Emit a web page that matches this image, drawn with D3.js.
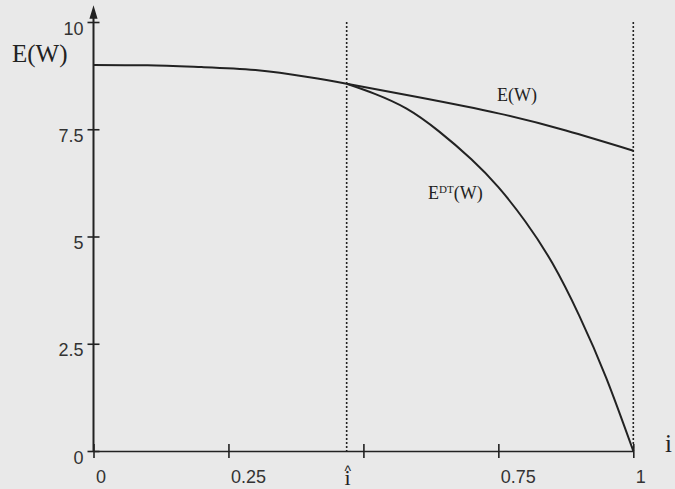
<!DOCTYPE html>
<html>
<head>
<meta charset="utf-8">
<script src="https://cdn.jsdelivr.net/npm/d3@7"></script>
<style>
  body { margin: 0; background: #e9e9e9; }
  svg { display: block; }
  .axis path, .axis line { stroke: #222; stroke-width: 1.6px; }
  .axis text { font-family: "Liberation Sans", Arial, sans-serif; font-size: 18px; fill: #333; }
  .serif { font-family: "Liberation Serif", "Times New Roman", serif; fill: #222; }
</style>
</head>
<body>
<svg width="675" height="489"></svg>
<script>
// values
var xTicks = [0, 0.25, 0.5, 0.75, 1];
var xTickLabels = ["0", "0.25", "", "0.75", "1"];
var yTicks = [0, 2.5, 5, 7.5, 10];
var yTickLabels = ["0", "2.5", "5", "7.5", "10"];
var iHat = 0.469;

// common part before i-hat
var sharedX = [0, 0.1, 0.2, 0.3, 0.4, 0.469];
var sharedY = [9.0, 8.99, 8.95, 8.88, 8.71, 8.56];
// E(W) after i-hat
var ewX = [0.469, 0.6, 0.75, 0.875, 1.0];
var ewY = [8.56, 8.25, 7.87, 7.47, 7.0];
// E^DT(W) after i-hat
var edtX = [0.469, 0.52, 0.58, 0.64, 0.70, 0.75, 0.80, 0.85, 0.90, 0.95, 1.0];
var edtY = [8.56, 8.33, 7.98, 7.45, 6.8, 6.15, 5.35, 4.38, 3.15, 1.7, 0];

window.onload = function() {
    var svg = d3.select("svg");
    var x = d3.scaleLinear().domain([0, 1]).range([93.5, 633.3]),
        y = d3.scaleLinear().domain([0, 10]).range([451, 22]);

    var zip = function(xs, ys) {
        return xs.map(function(v, i) { return {x: v, y: ys[i]}; });
    };
    var line = d3.line()
        .curve(d3.curveNatural)
        .x(function(d) { return x(d.x); })
        .y(function(d) { return y(d.y); });

    // dotted verticals at i-hat and 1
    svg.selectAll(".guide")
        .data([iHat, 1])
        .enter().append("line")
        .attr("class", "guide")
        .attr("x1", function(d) { return x(d); })
        .attr("x2", function(d) { return x(d); })
        .attr("y1", y(10))
        .attr("y2", y(0))
        .style("stroke", "#222")
        .style("stroke-width", "1.6px")
        .style("stroke-dasharray", "2,2");

    // x axis
    var gx = svg.append("g")
        .attr("class", "axis axis--x")
        .attr("transform", "translate(0," + y(0) + ")")
        .call(d3.axisBottom(x).tickValues(xTicks).tickSizeOuter(0)
            .tickFormat(function(d, i) { return xTickLabels[i]; }));
    gx.selectAll(".tick line").attr("y1", -7).attr("y2", 7);
    gx.selectAll(".tick text")
        .style("text-anchor", "start")
        .attr("x", 2)
        .attr("y", 32)
        .attr("dy", null);

    // y axis
    var gy = svg.append("g")
        .attr("class", "axis axis--y")
        .attr("transform", "translate(" + x(0) + ",0)")
        .call(d3.axisLeft(y).tickValues(yTicks).tickSizeOuter(0)
            .tickFormat(function(d, i) { return yTickLabels[i]; }));
    gy.selectAll(".tick line").attr("x1", -6).attr("x2", 6);
    gy.selectAll(".tick text")
        .attr("x", -10)
        .attr("y", 12)
        .attr("dy", null);
    gy.select(".domain").remove();
    // y axis line with arrow
    gy.append("line")
        .attr("x1", 0).attr("x2", 0)
        .attr("y1", y(0)).attr("y2", y(10) - 8)
        .style("stroke", "#222")
        .style("stroke-width", "2px");
    gy.append("path")
        .attr("d", "M-3," + (y(10) - 4) + "L0," + (y(10) - 14) + "L3," + (y(10) - 4) + "Z")
        .style("fill", "#222");

    // curves
    var curves = [zip(sharedX, sharedY), zip(ewX, ewY), zip(edtX, edtY)];
    svg.selectAll(".curve")
        .data(curves)
        .enter().append("path")
        .attr("class", "curve")
        .attr("d", line)
        .style("fill", "none")
        .style("stroke", "#222")
        .style("stroke-width", "2px");

    // labels
    svg.append("text").attr("class", "serif")
        .attr("x", 12).attr("y", 62)
        .style("font-size", "25px")
        .text("E(W)");
    svg.append("text").attr("class", "serif")
        .attr("x", 497).attr("y", 101)
        .style("font-size", "18px")
        .text("E(W)");
    var edt = svg.append("text").attr("class", "serif")
        .attr("x", 428).attr("y", 199)
        .style("font-size", "18px");
    edt.append("tspan").text("E");
    edt.append("tspan").attr("dy", -6).style("font-size", "11px").text("DT");
    edt.append("tspan").attr("dy", 6).text("(W)");
    svg.append("text").attr("class", "serif")
        .attr("x", 665).attr("y", 452)
        .style("font-size", "25px")
        .text("i");
    // i-hat under the axis: caret and i in one text
    var ih = svg.append("text").attr("class", "serif")
        .attr("text-anchor", "middle")
        .style("font-size", "22px");
    ih.append("tspan")
        .attr("x", x(iHat) + 1).attr("y", 476)
        .style("font-family", "Liberation Sans, sans-serif")
        .style("font-size", "14px")
        .text("^");
    ih.append("tspan")
        .attr("x", x(iHat) + 1).attr("y", 485)
        .text("i");
};
</script>
</body>
</html>
